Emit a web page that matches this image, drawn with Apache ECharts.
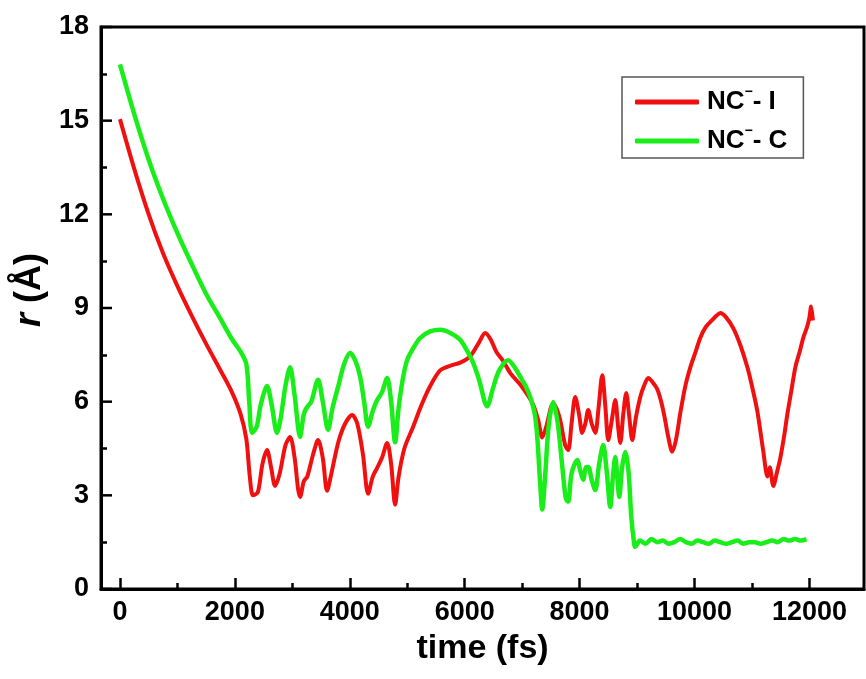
<!DOCTYPE html>
<html>
<head>
<meta charset="utf-8">
<script src="https://cdn.jsdelivr.net/npm/echarts@6/dist/echarts.min.js"></script>
<style>
html, body { margin: 0; padding: 0; background: #fff; }
#chart { width: 866px; height: 679px; }
</style>
</head>
<body>
<div id="chart"></div>
<script>
// NC- - I distance
var redTime = [0, 250, 500, 750, 1000, 1250, 1500, 1750, 1950, 2100, 2200, 2260, 2316, 2400, 2480, 2560, 2630, 2700, 2780, 2880, 2960, 3040, 3100, 3135, 3200, 3260, 3360, 3448, 3530, 3605, 3680, 3800, 3920, 4040, 4130, 4230, 4319, 4400, 4476, 4560, 4650, 4720, 4789, 4850, 4950, 5103, 5250, 5400, 5573, 5750, 5921, 6095, 6250, 6357, 6450, 6550, 6670, 6800, 6966, 7100, 7193, 7280, 7350, 7420, 7541, 7650, 7750, 7802, 7860, 7924, 7990, 8046, 8100, 8150, 8210, 8272, 8330, 8394, 8450, 8499, 8560, 8621, 8670, 8708, 8760, 8812, 8860, 8917, 8980, 9056, 9120, 9195, 9280, 9352, 9420, 9480, 9540, 9613, 9680, 9753, 9840, 9927, 10020, 10101, 10200, 10300, 10380, 10449, 10550, 10676, 10800, 10920, 11000, 11093, 11198, 11270, 11310, 11372, 11430, 11494, 11560, 11616, 11690, 11755, 11830, 11894, 11960, 12000, 12030, 12060];
var redR = [15.05, 13.45, 12.0, 10.75, 9.7, 8.75, 7.85, 7.0, 6.3, 5.6, 4.8, 3.6, 3.0, 3.1, 4.0, 4.45, 3.9, 3.3, 3.7, 4.6, 4.87, 4.2, 3.2, 2.95, 3.45, 3.6, 4.3, 4.77, 4.2, 3.15, 3.7, 4.7, 5.3, 5.57, 5.3, 4.3, 3.05, 3.6, 3.88, 4.2, 4.68, 4.0, 2.7, 3.6, 4.5, 5.2, 5.9, 6.5, 7.0, 7.15, 7.25, 7.45, 7.9, 8.2, 8.0, 7.6, 7.3, 6.9, 6.55, 6.2, 5.9, 5.4, 4.85, 5.2, 5.95, 5.5, 4.6, 4.45, 5.3, 6.15, 5.6, 5.0, 5.3, 5.73, 5.3, 5.0, 5.8, 6.85, 5.8, 4.77, 5.4, 6.05, 5.2, 4.68, 5.6, 6.28, 5.6, 4.77, 5.5, 6.15, 6.5, 6.76, 6.6, 6.4, 6.0, 5.5, 4.9, 4.4, 4.8, 5.64, 6.5, 7.1, 7.6, 8.05, 8.4, 8.6, 8.75, 8.84, 8.7, 8.35, 7.8, 7.1, 6.5, 5.7, 4.4, 3.6, 3.9, 3.3, 3.7, 4.2, 4.9, 5.6, 6.4, 7.1, 7.6, 8.05, 8.4, 8.7, 9.05, 8.6];

// NC- - C distance
var greenTime = [0, 250, 500, 750, 1000, 1250, 1500, 1750, 1950, 2100, 2200, 2250, 2300, 2380, 2450, 2560, 2640, 2734, 2800, 2880, 2960, 3040, 3135, 3200, 3257, 3330, 3448, 3530, 3622, 3700, 3800, 3900, 4006, 4100, 4180, 4250, 4319, 4400, 4476, 4560, 4650, 4720, 4789, 4850, 4920, 4998, 5100, 5225, 5400, 5573, 5750, 5921, 6050, 6148, 6250, 6391, 6496, 6600, 6757, 6870, 6966, 7060, 7140, 7220, 7262, 7310, 7350, 7400, 7460, 7541, 7620, 7700, 7760, 7802, 7860, 7959, 8010, 8063, 8110, 8150, 8210, 8272, 8340, 8411, 8470, 8534, 8580, 8621, 8660, 8690, 8740, 8795, 8850, 8900, 8940, 8969, 9050, 9150, 9250, 9350, 9450, 9550, 9650, 9750, 9850, 9950, 10050, 10150, 10250, 10350, 10450, 10550, 10650, 10750, 10850, 10950, 11050, 11150, 11250, 11350, 11450, 11550, 11650, 11750, 11850, 11950, 12050];
var greenR = [16.8, 15.2, 13.75, 12.5, 11.4, 10.4, 9.45, 8.65, 8.0, 7.6, 7.2, 6.0, 5.0, 5.2, 5.9, 6.5, 5.9, 5.0, 5.5, 6.5, 7.1, 6.2, 4.87, 5.6, 5.83, 6.0, 6.7, 6.0, 5.1, 5.8, 6.5, 7.2, 7.56, 7.3, 6.8, 6.0, 5.2, 5.7, 6.05, 6.3, 6.76, 6.0, 4.7, 5.8, 6.7, 7.33, 7.7, 8.04, 8.25, 8.3, 8.2, 7.98, 7.6, 7.24, 6.7, 5.85, 6.45, 7.0, 7.33, 7.1, 6.8, 6.5, 6.15, 5.6, 4.9, 3.5, 2.55, 3.6, 5.2, 5.99, 5.3, 3.9, 2.9, 2.8, 3.7, 4.13, 3.8, 3.5, 3.9, 3.91, 3.5, 3.17, 4.0, 4.61, 3.8, 2.63, 3.6, 4.23, 3.5, 2.95, 3.9, 4.39, 3.8, 2.3, 1.6, 1.35, 1.55, 1.45, 1.6, 1.5, 1.55, 1.45, 1.5, 1.6, 1.5, 1.45, 1.55, 1.5, 1.45, 1.55, 1.5, 1.45, 1.5, 1.55, 1.45, 1.5, 1.5, 1.45, 1.5, 1.55, 1.5, 1.6, 1.55, 1.6, 1.55, 1.6];

var seriesNames = ['NC-I', 'NC-C'];
var legendLabels = ['NC{sup|−}- I', 'NC{sup|−}- C'];
var majorTicks = [0, 2000, 4000, 6000, 8000, 10000, 12000];
var minorTicks = [1000, 3000, 5000, 7000, 9000, 11000];
var yMajorTicks = [0, 3, 6, 9, 12, 15, 18];
var yMinorTicks = [1.5, 4.5, 7.5, 10.5, 13.5, 16.5];
var xMin = -330;
var xMax = 12950;

function zip(xs, ys) {
    var out = [];
    for (var i = 0; i < xs.length; i++) {
        out.push([xs[i], ys[i]]);
    }
    return out;
}

var chart = echarts.init(document.getElementById('chart'));
var fontFamily = '"Liberation Sans", Arial, sans-serif';
chart.setOption({
    animation: false,
    grid: {
        left: 101,
        right: 2,
        top: 27,
        bottom: 90,
        show: true,
        borderColor: '#000',
        borderWidth: 3
    },
    legend: {
        orient: 'vertical',
        left: 622,
        top: 77,
        padding: [8, 16, 0, 13],
        itemGap: 5,
        itemWidth: 64,
        itemHeight: 5,
        icon: 'roundRect',
        borderColor: '#555',
        borderWidth: 1.5,
        data: seriesNames,
        formatter: function (name) {
            return legendLabels[seriesNames.indexOf(name)];
        },
        textStyle: {
            fontFamily: fontFamily,
            fontSize: 26,
            fontWeight: 'bold',
            color: '#000',
            lineHeight: 34,
            padding: [0, 0, 0, 3],
            rich: {
                sup: {
                    fontFamily: fontFamily,
                    fontSize: 14,
                    fontWeight: 'bold',
                    lineHeight: 6,
                    verticalAlign: 'top',
                    color: '#000'
                }
            }
        }
    },
    xAxis: [{
        type: 'value',
        min: xMin,
        max: xMax,
        name: 'time (fs)',
        nameLocation: 'middle',
        nameGap: 43,
        nameTextStyle: {
            fontFamily: fontFamily,
            fontSize: 34,
            fontWeight: 'bold',
            color: '#000'
        },
        axisLine: { show: true, onZero: false, lineStyle: { color: '#000', width: 3 } },
        axisTick: {
            show: true,
            inside: true,
            length: 11,
            customValues: majorTicks,
            lineStyle: { color: '#000', width: 2.5 }
        },
        axisLabel: {
            customValues: majorTicks,
            formatter: function (v) { return String(v); },
            margin: 10,
            fontFamily: fontFamily,
            fontSize: 27,
            fontWeight: 'bold',
            color: '#000'
        },
        splitLine: { show: false }
    }, {
        type: 'value',
        position: 'bottom',
        min: xMin,
        max: xMax,
        axisLine: { show: false, onZero: false },
        axisTick: {
            show: true,
            inside: true,
            length: 6,
            customValues: minorTicks,
            lineStyle: { color: '#000', width: 2.5 }
        },
        axisLabel: { show: false },
        splitLine: { show: false }
    }],
    yAxis: [{
        type: 'value',
        min: 0,
        max: 18,
        name: '{i|r} (Å)',
        nameLocation: 'middle',
        nameGap: 43,
        nameTextStyle: {
            fontFamily: fontFamily,
            fontSize: 36,
            fontWeight: 'bold',
            color: '#000',
            padding: [0, 0, 0, 36],
            rich: {
                i: {
                    fontFamily: fontFamily,
                    fontSize: 36,
                    fontWeight: 'bold',
                    fontStyle: 'italic',
                    color: '#000'
                }
            }
        },
        axisLine: { show: true, onZero: false, lineStyle: { color: '#000', width: 3 } },
        axisTick: { show: false },
        axisLabel: {
            customValues: yMajorTicks,
            margin: 12,
            fontFamily: fontFamily,
            fontSize: 27,
            fontWeight: 'bold',
            color: '#000'
        },
        splitLine: { show: false }
    }, {
        type: 'value',
        position: 'left',
        min: 0,
        max: 18,
        axisLine: { show: false, onZero: false },
        axisTick: {
            show: true,
            inside: true,
            length: 6,
            customValues: yMinorTicks,
            lineStyle: { color: '#000', width: 2.5 }
        },
        axisLabel: { show: false },
        splitLine: { show: false }
    }],
    series: [{
        name: 'NC-I',
        type: 'line',
        data: zip(redTime, redR),
        showSymbol: false,
        smooth: 0.3,
        color: '#f01010',
        lineStyle: { width: 4, color: '#f01010' }
    }, {
        name: 'NC-C',
        type: 'line',
        data: zip(greenTime, greenR),
        showSymbol: false,
        smooth: 0.3,
        color: '#1aee1a',
        lineStyle: { width: 4.5, color: '#1aee1a' }
    }, {
        // major y ticks, placed through the y scale
        type: 'custom',
        silent: true,
        z: 5,
        data: yMajorTicks.map(function (v) { return [xMin, v]; }),
        renderItem: function (params, api) {
            var p = api.coord([api.value(0), api.value(1)]);
            return {
                type: 'line',
                shape: { x1: p[0], y1: p[1], x2: p[0] + 11, y2: p[1] },
                style: { stroke: '#000', lineWidth: 2.5 }
            };
        }
    }]
});
</script>
</body>
</html>
